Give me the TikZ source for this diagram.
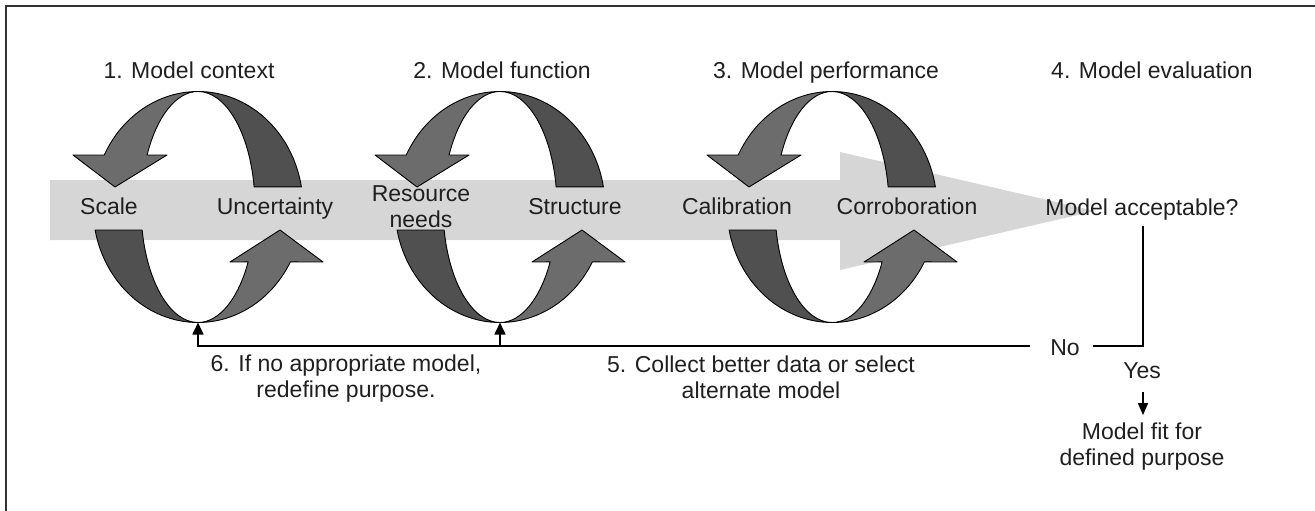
\documentclass[tikz,border=0pt]{standalone}
\usepackage{fontspec}
\setmainfont{Liberation Sans}
\usetikzlibrary{arrows.meta}
\definecolor{bandgray}{RGB}{214,214,214}
\definecolor{darkpart}{RGB}{80,80,80}
\definecolor{midpart}{RGB}{108,108,108}
\tikzset{
  txt/.style={font=\fontsize{23}{26}\selectfont, inner sep=0pt, align=center, text=black!88},
  darkband/.style={fill=darkpart, draw=black, line width=0.9pt, line join=round},
  midband/.style={fill=midpart, draw=black, line width=0.9pt, line join=round},
  conn/.style={draw=black, line width=1.6pt},
  uparrow/.style={-{Triangle[length=12pt,width=11pt]}},
  smallarrow/.style={-{Triangle[length=12pt,width=10pt]}},
}
\newcommand{\drawcycle}[2]{%
  \begin{scope}[shift={(#1,-207)}]
    \coordinate (#2top) at (0,115.5);
    \coordinate (#2bot) at (0,-115.5);
    % top arrow, dark tail part
    \filldraw[darkband] (10:105pt and 115.5pt)
      arc[start angle=10,end angle=90,x radius=105pt,y radius=115.5pt]
      arc[start angle=90,end angle=10,x radius=57pt,y radius=115.5pt] -- cycle;
    % top arrow, head part
    \filldraw[midband] (0,115.5)
      arc[start angle=90,end angle=153.25,x radius=105pt,y radius=115.5pt]
      -- (-125,52) -- (-83,20) -- (-31,52) -- (153.25:57pt and 115.5pt)
      arc[start angle=153.25,end angle=90,x radius=57pt,y radius=115.5pt] -- cycle;
    % bottom arrow, dark tail part
    \filldraw[darkband] (191.5:105pt and 115.5pt)
      arc[start angle=191.5,end angle=270,x radius=105pt,y radius=115.5pt]
      arc[start angle=270,end angle=191.5,x radius=57pt,y radius=115.5pt] -- cycle;
    % bottom arrow, head part
    \filldraw[midband] (0,-115.5)
      arc[start angle=270,end angle=331.6,x radius=105pt,y radius=115.5pt]
      -- (125,-55) -- (82,-23) -- (32,-55) -- (331.6:57pt and 115.5pt)
      arc[start angle=331.6,end angle=270,x radius=57pt,y radius=115.5pt] -- cycle;
  \end{scope}%
}
\begin{document}
\begin{tikzpicture}[x=1pt,y=1pt]
\useasboundingbox (0,0) rectangle (1315,-511);
% frame
\draw[line width=1.3pt, black!80] (6,-511) -- (6,-6) -- (1315,-6);
% big gray arrow
\fill[bandgray] (50,-180) -- (840,-180) -- (840,-152) -- (1095,-211)
  -- (840,-270) -- (840,-240) -- (50,-240) -- cycle;
% cycles
\drawcycle{198}{cA}
\drawcycle{500}{cB}
\drawcycle{832}{cC}
% headings
\node[txt, anchor=base] (h1) at (189,-78) {1. Model context};
\node[txt, anchor=base] (h2) at (502,-78) {2. Model function};
\node[txt, anchor=base] (h3) at (826,-78) {3. Model performance};
\node[txt, anchor=base] (h4) at (1152,-78) {4. Model evaluation};
% labels on the band
\node[txt, anchor=base] (scale) at (109,-214) {Scale};
\node[txt, anchor=base] (unc) at (275,-214) {Uncertainty};
\node[txt, anchor=base] (res) at (421,-227) {Resource\\needs};
\node[txt, anchor=base] (struct) at (575,-214) {Structure};
\node[txt, anchor=base] (calib) at (737,-214) {Calibration};
\node[txt, anchor=base] (corr) at (907,-214) {Corroboration};
\node[txt, anchor=base] (acc) at (1142,-215) {Model acceptable?};
% decision
\node[txt, anchor=base] (no) at (1065,-355) {No};
\node[txt, anchor=base] (yes) at (1142,-378) {Yes};
\node[txt, anchor=base] (fit) at (1142,-465) {Model fit for\\defined purpose};
\node[txt, anchor=base] (six) at (346,-397) {6. If no appropriate model,\\redefine purpose.};
\node[txt, anchor=base] (five) at (761,-398) {5. Collect better data or select\\alternate model};
\coordinate (corner) at (1143,-346);
\coordinate (noleft) at (1030,-346);
\coordinate (noright) at (1093,-346);
\draw[conn, shorten <=6pt] (acc.south -| corner) -- (corner) -- (noright);
\draw[conn, uparrow] (noleft) -| (cAbot);
\draw[conn, uparrow] (cBbot |- noleft) -- (cBbot);
\draw[conn, line width=1.4pt, smallarrow, shorten <=14pt, shorten >=7pt] (yes.south -| corner) -- (fit.north -| corner);
\end{tikzpicture}
\end{document}
